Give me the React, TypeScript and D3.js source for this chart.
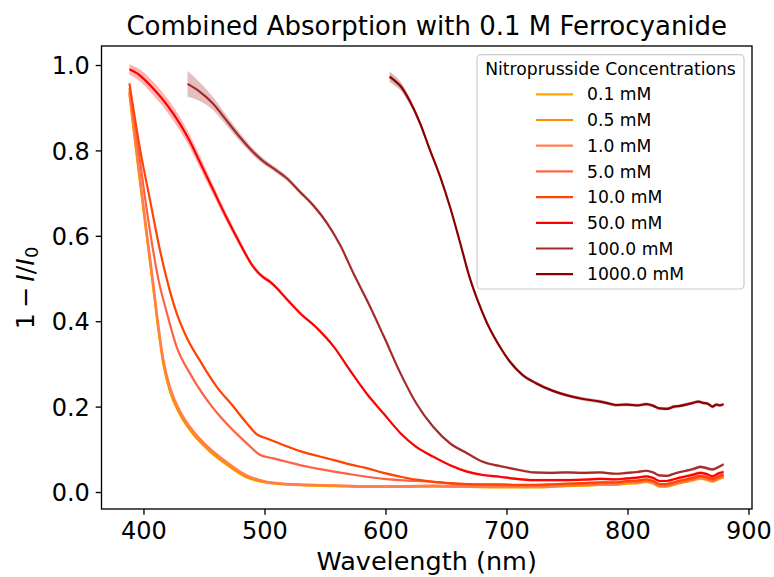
import React from 'react';
import * as d3 from 'd3';

const WIDTH = 774;
const HEIGHT = 577;
const AX = { left: 101.5, right: 752, top: 46, bottom: 509 };
const FONT = '"DejaVu Sans", sans-serif';

const titleText = 'Combined Absorption with 0.1 M Ferrocyanide';
const xLabelText = 'Wavelength (nm)';
const legendTitle = 'Nitroprusside Concentrations';
const seriesLabels = ['0.1 mM', '0.5 mM', '1.0 mM', '5.0 mM', '10.0 mM', '50.0 mM', '100.0 mM', '1000.0 mM'];
const seriesColors = ['#FFA500', '#FF8C00', '#FF7F50', '#FF6347', '#FF4500', '#FF0000', '#A52A2A', '#8B0000'];
const xTicks = [400, 500, 600, 700, 800, 900];
const yTicks = [0, 0.2, 0.4, 0.6, 0.8, 1.0];
const xDomain = [364.9, 902.5];
const yDomain = [-0.0386, 1.0457];

type Pt = [number, number, number]; // wavelength, mean, sd

const s0_1: Pt[] = [
  [388, 0.932, 0.006], [392, 0.835, 0.005], [397, 0.72, 0.005], [402, 0.605, 0.004], [407, 0.494, 0.004],
  [412, 0.378, 0.004], [416, 0.3, 0.004], [421.5, 0.236, 0.003], [430, 0.181, 0.003], [441, 0.135, 0.003],
  [454, 0.097, 0.003], [468, 0.066, 0.003], [485, 0.035, 0.003], [499, 0.024, 0.002], [515, 0.019, 0.002],
  [529, 0.017, 0.002], [557, 0.015, 0.002], [584, 0.013, 0.002], [612, 0.013, 0.002], [639, 0.014, 0.002],
  [667, 0.013, 0.002], [694, 0.012, 0.002], [708, 0.012, 0.002], [722, 0.012, 0.002], [735, 0.013, 0.002],
  [749, 0.015, 0.002], [763, 0.016, 0.003], [777, 0.018, 0.003], [790, 0.018, 0.003], [799, 0.021, 0.003],
  [808, 0.022, 0.003], [815, 0.025, 0.003], [821, 0.021, 0.003], [826, 0.014, 0.003], [832, 0.014, 0.003],
  [838, 0.018, 0.003], [843, 0.022, 0.003], [848, 0.025, 0.003], [854, 0.029, 0.004], [860, 0.033, 0.004],
  [865, 0.03, 0.004], [870, 0.026, 0.004], [875, 0.032, 0.004], [879, 0.036, 0.004],
];

const s0_5: Pt[] = [
  [388, 0.936, 0.006], [392, 0.84, 0.005], [397, 0.725, 0.005], [402, 0.61, 0.004], [407, 0.498, 0.004],
  [412, 0.382, 0.004], [416, 0.304, 0.004], [421.5, 0.24, 0.003], [430, 0.184, 0.003], [441, 0.138, 0.003],
  [454, 0.1, 0.003], [468, 0.068, 0.003], [485, 0.037, 0.003], [499, 0.025, 0.002], [515, 0.02, 0.002],
  [529, 0.018, 0.002], [557, 0.016, 0.002], [584, 0.014, 0.002], [612, 0.014, 0.002], [639, 0.015, 0.002],
  [667, 0.014, 0.002], [694, 0.013, 0.002], [708, 0.013, 0.002], [722, 0.013, 0.002], [735, 0.014, 0.002],
  [749, 0.016, 0.002], [763, 0.017, 0.003], [777, 0.019, 0.003], [790, 0.019, 0.003], [799, 0.022, 0.003],
  [808, 0.023, 0.003], [815, 0.026, 0.003], [821, 0.022, 0.003], [826, 0.015, 0.003], [832, 0.015, 0.003],
  [838, 0.019, 0.003], [843, 0.023, 0.003], [848, 0.026, 0.003], [854, 0.03, 0.004], [860, 0.034, 0.004],
  [865, 0.031, 0.004], [870, 0.027, 0.004], [875, 0.033, 0.004], [879, 0.037, 0.004],
];

const s1_0: Pt[] = [
  [388, 0.94, 0.006], [392, 0.845, 0.005], [397, 0.732, 0.005], [402, 0.618, 0.004], [407, 0.506, 0.004],
  [412, 0.39, 0.004], [416, 0.312, 0.004], [421.5, 0.247, 0.003], [430, 0.19, 0.003], [441, 0.143, 0.003],
  [454, 0.104, 0.003], [468, 0.072, 0.003], [485, 0.04, 0.003], [499, 0.027, 0.002], [515, 0.021, 0.002],
  [529, 0.019, 0.002], [557, 0.017, 0.002], [584, 0.015, 0.002], [612, 0.015, 0.002], [639, 0.016, 0.002],
  [667, 0.015, 0.002], [694, 0.014, 0.002], [708, 0.014, 0.002], [722, 0.014, 0.002], [735, 0.015, 0.002],
  [749, 0.017, 0.002], [763, 0.018, 0.003], [777, 0.02, 0.003], [790, 0.02, 0.003], [799, 0.023, 0.003],
  [808, 0.024, 0.003], [815, 0.027, 0.003], [821, 0.023, 0.003], [826, 0.016, 0.003], [832, 0.016, 0.003],
  [838, 0.02, 0.003], [843, 0.024, 0.003], [848, 0.027, 0.003], [854, 0.031, 0.004], [860, 0.035, 0.004],
  [865, 0.032, 0.004], [870, 0.028, 0.004], [875, 0.034, 0.004], [879, 0.038, 0.004],
];

const s5_0: Pt[] = [
  [388, 0.947, 0.006], [396, 0.79, 0.005], [404, 0.63, 0.005], [412, 0.498, 0.004], [419, 0.42, 0.004],
  [427, 0.341, 0.004], [438, 0.279, 0.003], [452, 0.217, 0.003], [468, 0.162, 0.003], [485, 0.115, 0.003],
  [496, 0.088, 0.003], [507, 0.08, 0.002], [518, 0.072, 0.002], [529, 0.064, 0.002], [543, 0.056, 0.002],
  [557, 0.049, 0.002], [570, 0.043, 0.002], [584, 0.037, 0.002], [598, 0.032, 0.002], [612, 0.029, 0.002],
  [625, 0.027, 0.002], [639, 0.025, 0.002], [653, 0.021, 0.002], [667, 0.019, 0.002], [680, 0.018, 0.002],
  [694, 0.017, 0.002], [708, 0.016, 0.002], [722, 0.016, 0.002], [735, 0.017, 0.002], [749, 0.019, 0.002],
  [763, 0.02, 0.003], [777, 0.022, 0.003], [790, 0.022, 0.003], [799, 0.025, 0.003], [808, 0.026, 0.003],
  [815, 0.029, 0.003], [821, 0.025, 0.003], [826, 0.018, 0.003], [832, 0.018, 0.003], [838, 0.022, 0.003],
  [843, 0.026, 0.003], [848, 0.029, 0.003], [854, 0.033, 0.004], [860, 0.037, 0.004], [865, 0.034, 0.004],
  [870, 0.03, 0.004], [875, 0.036, 0.004], [879, 0.04, 0.004],
];

const s10_0: Pt[] = [
  [388, 0.958, 0.006], [397, 0.8, 0.005], [405, 0.685, 0.005], [412, 0.584, 0.004], [419, 0.498, 0.004],
  [427, 0.42, 0.004], [435, 0.365, 0.003], [446, 0.31, 0.003], [460, 0.248, 0.003], [474, 0.201, 0.003],
  [485, 0.162, 0.003], [493, 0.137, 0.003], [501, 0.127, 0.002], [512, 0.115, 0.002], [529, 0.097, 0.002],
  [543, 0.086, 0.002], [557, 0.076, 0.002], [570, 0.066, 0.002], [584, 0.057, 0.002], [598, 0.046, 0.002],
  [612, 0.037, 0.002], [625, 0.03, 0.002], [639, 0.025, 0.002], [653, 0.022, 0.002], [667, 0.02, 0.002],
  [680, 0.019, 0.002], [694, 0.019, 0.002], [708, 0.018, 0.002], [722, 0.018, 0.002], [735, 0.019, 0.002],
  [749, 0.021, 0.002], [763, 0.022, 0.003], [777, 0.024, 0.003], [790, 0.024, 0.003], [799, 0.027, 0.003],
  [808, 0.028, 0.003], [815, 0.031, 0.003], [821, 0.027, 0.003], [826, 0.02, 0.003], [832, 0.02, 0.003],
  [838, 0.024, 0.003], [843, 0.028, 0.003], [848, 0.031, 0.003], [854, 0.035, 0.004], [860, 0.039, 0.004],
  [865, 0.036, 0.004], [870, 0.032, 0.004], [875, 0.038, 0.004], [879, 0.042, 0.004],
];

const s50_0: Pt[] = [
  [388, 0.991, 0.012], [397, 0.976, 0.014], [408, 0.945, 0.016], [419, 0.908, 0.016], [430, 0.862, 0.016],
  [438, 0.822, 0.015], [446, 0.775, 0.014], [457, 0.71, 0.012], [468, 0.645, 0.01], [479, 0.585, 0.008],
  [490, 0.53, 0.006], [499, 0.503, 0.005], [504, 0.494, 0.005], [509, 0.481, 0.004], [517, 0.456, 0.004],
  [529, 0.42, 0.004], [543, 0.385, 0.003], [557, 0.341, 0.003], [570, 0.287, 0.003], [584, 0.232, 0.003],
  [598, 0.185, 0.003], [612, 0.139, 0.003], [625, 0.107, 0.003], [639, 0.084, 0.003], [653, 0.064, 0.003],
  [667, 0.049, 0.003], [680, 0.041, 0.003], [694, 0.037, 0.003], [708, 0.032, 0.003], [722, 0.029, 0.003],
  [735, 0.029, 0.003], [749, 0.029, 0.003], [763, 0.03, 0.003], [777, 0.032, 0.003], [790, 0.031, 0.003],
  [799, 0.033, 0.003], [808, 0.035, 0.003], [815, 0.038, 0.003], [821, 0.034, 0.003], [826, 0.027, 0.003],
  [832, 0.027, 0.003], [838, 0.031, 0.003], [843, 0.035, 0.003], [848, 0.038, 0.003], [854, 0.042, 0.004],
  [860, 0.046, 0.004], [865, 0.043, 0.004], [870, 0.038, 0.004], [875, 0.045, 0.004], [879, 0.048, 0.004],
];

const s100_0: Pt[] = [
  [436, 0.957, 0.03], [446, 0.939, 0.022], [457, 0.911, 0.015], [468, 0.872, 0.012], [479, 0.833, 0.01],
  [490, 0.798, 0.008], [499, 0.775, 0.007], [507, 0.759, 0.006], [518, 0.736, 0.006], [529, 0.704, 0.005],
  [540, 0.672, 0.005], [551, 0.632, 0.005], [562, 0.58, 0.004], [574, 0.508, 0.004], [584, 0.452, 0.004],
  [598, 0.367, 0.004], [612, 0.279, 0.004], [625, 0.209, 0.003], [639, 0.154, 0.003], [653, 0.115, 0.003],
  [667, 0.092, 0.003], [680, 0.072, 0.003], [694, 0.062, 0.003], [708, 0.054, 0.003], [722, 0.047, 0.003],
  [735, 0.046, 0.003], [749, 0.047, 0.003], [763, 0.046, 0.003], [777, 0.047, 0.003], [790, 0.044, 0.003],
  [799, 0.046, 0.003], [808, 0.048, 0.003], [815, 0.051, 0.003], [821, 0.047, 0.003], [826, 0.04, 0.003],
  [832, 0.039, 0.003], [838, 0.044, 0.003], [843, 0.048, 0.003], [848, 0.051, 0.003], [854, 0.055, 0.004],
  [860, 0.06, 0.004], [865, 0.057, 0.004], [870, 0.054, 0.004], [875, 0.06, 0.004], [879, 0.066, 0.004],
];

const s1000_0: Pt[] = [
  [603, 0.974, 0.012], [607, 0.965, 0.011], [612, 0.952, 0.01], [620, 0.915, 0.008], [628, 0.866, 0.006],
  [636, 0.805, 0.005], [645, 0.738, 0.004], [653, 0.668, 0.004], [661, 0.588, 0.004], [669, 0.505, 0.004],
  [676, 0.448, 0.004], [683, 0.4, 0.004], [694, 0.342, 0.004], [702, 0.308, 0.004], [713, 0.275, 0.004],
  [724, 0.256, 0.004], [738, 0.238, 0.004], [749, 0.228, 0.004], [763, 0.219, 0.004], [777, 0.213, 0.004],
  [785, 0.208, 0.004], [790, 0.205, 0.004], [799, 0.206, 0.004], [808, 0.204, 0.004], [815, 0.207, 0.004],
  [821, 0.203, 0.004], [826, 0.197, 0.004], [832, 0.196, 0.004], [838, 0.201, 0.004], [843, 0.203, 0.004],
  [848, 0.206, 0.004], [854, 0.21, 0.004], [858, 0.213, 0.004], [862, 0.21, 0.004], [866, 0.208, 0.004],
  [870, 0.201, 0.004], [873, 0.206, 0.004], [876, 0.204, 0.004], [879, 0.207, 0.004],
];

const seriesData: Pt[][] = [s0_1, s0_5, s1_0, s5_0, s10_0, s50_0, s100_0, s1000_0];

export default function App() {
  const x = d3.scaleLinear().domain(xDomain).range([AX.left, AX.right]);
  const y = d3.scaleLinear().domain(yDomain).range([AX.bottom, AX.top]);

  const line = d3
    .line<Pt>()
    .x((d) => x(d[0]))
    .y((d) => y(d[1]))
    .curve(d3.curveMonotoneX);
  const area = d3
    .area<Pt>()
    .x((d) => x(d[0]))
    .y0((d) => y(d[1] - d[2]))
    .y1((d) => y(d[1] + d[2]))
    .curve(d3.curveMonotoneX);

  const tickLen = 5.8;
  const legX = 477;
  const legY = 54.7;
  const legW = 267;
  const legH = 234.3;
  const rowY0 = 94.3;
  const rowDy = 25.7;
  const ylabX = 34;
  const ylabY = 288;

  return (
    <svg
      width={WIDTH}
      height={HEIGHT}
      viewBox={`0 0 ${WIDTH} ${HEIGHT}`}
      style={{ position: 'absolute', left: 0, top: 0, background: '#fff' }}
      fontFamily={FONT}
    >
      <rect x={0} y={0} width={WIDTH} height={HEIGHT} fill="#fff" />
      <defs>
        <clipPath id="plotclip">
          <rect x={AX.left} y={AX.top} width={AX.right - AX.left} height={AX.bottom - AX.top} />
        </clipPath>
      </defs>
      <g clipPath="url(#plotclip)">
        {seriesData.map((s, i) => (
          <g key={seriesLabels[i]}>
            <path d={area(s) || ''} fill={seriesColors[i]} fillOpacity={0.3} stroke="none" />
            <path
              d={line(s) || ''}
              fill="none"
              stroke={seriesColors[i]}
              strokeWidth={2.2}
              strokeLinejoin="round"
              strokeLinecap="butt"
            />
          </g>
        ))}
      </g>

      {/* spines */}
      <rect
        x={AX.left}
        y={AX.top}
        width={AX.right - AX.left}
        height={AX.bottom - AX.top}
        fill="none"
        stroke="#000"
        strokeWidth={1.33}
      />

      {/* x ticks */}
      {xTicks.map((t) => (
        <g key={'x' + t}>
          <line x1={x(t)} x2={x(t)} y1={AX.bottom} y2={AX.bottom + tickLen} stroke="#000" strokeWidth={1.33} />
          <text x={x(t)} y={538.5} textAnchor="middle" fontSize={24} fill="#000">
            {t}
          </text>
        </g>
      ))}

      {/* y ticks */}
      {yTicks.map((t) => (
        <g key={'y' + t}>
          <line x1={AX.left - tickLen} x2={AX.left} y1={y(t)} y2={y(t)} stroke="#000" strokeWidth={1.33} />
          <text x={AX.left - tickLen - 5.8} y={y(t)} dy="0.36em" textAnchor="end" fontSize={24} fill="#000">
            {t.toFixed(1)}
          </text>
        </g>
      ))}

      {/* title */}
      <text x={(AX.left + AX.right) / 2} y={35} textAnchor="middle" fontSize={26} fill="#000">
        {titleText}
      </text>

      {/* x label */}
      <text x={(AX.left + AX.right) / 2} y={570} textAnchor="middle" fontSize={25.5} fill="#000">
        {xLabelText}
      </text>

      {/* y label */}
      <text
        transform={`translate(${ylabX},${ylabY}) rotate(-90)`}
        textAnchor="middle"
        fontSize={25.5}
        fill="#000"
      >
        <tspan>1</tspan>
        <tspan dx={5}>−</tspan>
        <tspan dx={5} fontStyle="italic">I</tspan>
        <tspan>/</tspan>
        <tspan fontStyle="italic">I</tspan>
        <tspan fontSize={18} dy={4}>0</tspan>
      </text>

      {/* legend */}
      <rect
        x={legX}
        y={legY}
        width={legW}
        height={legH}
        rx={4}
        ry={4}
        fill="#fff"
        fillOpacity={0.8}
        stroke="#cccccc"
        strokeWidth={1.2}
      />
      <text x={legX + legW / 2} y={69} dy="0.36em" textAnchor="middle" fontSize={17.2} fill="#000">
        {legendTitle}
      </text>
      {seriesLabels.map((lab, i) => (
        <g key={'leg' + lab}>
          <line
            x1={536}
            x2={573}
            y1={rowY0 + i * rowDy}
            y2={rowY0 + i * rowDy}
            stroke={seriesColors[i]}
            strokeWidth={2.2}
          />
          <text x={587} y={rowY0 + i * rowDy} dy="0.36em" fontSize={17.2} fill="#000">
            {lab}
          </text>
        </g>
      ))}
    </svg>
  );
}
